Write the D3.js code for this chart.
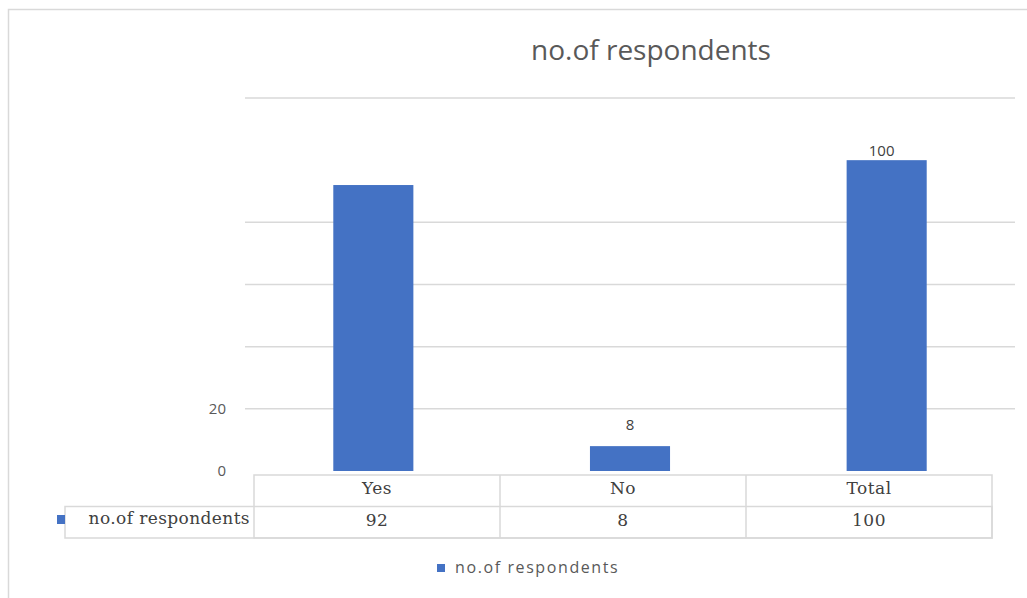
<!DOCTYPE html>
<html>
<head>
<meta charset="utf-8">
<script src="https://cdn.jsdelivr.net/npm/d3@7"></script>
<style>
  body { margin: 0; background: #fff; }
  svg { display: block; }
</style>
</head>
<body>
<div id="wrapper"></div>
<script>
// data
var categories = ['Yes', 'No', 'Total']
var values = [92, 8, 100]
var seriesName = 'no.of respondents'
var gridValues = [20, 40, 60, 80, 120] // the 100 line is not drawn in the original
var tickLabels = [0, 20]               // only these two survive on the axis
var labelled = ['No', 'Total']         // data labels shown only on these bars

var width = 1027, height = 598
var blue = '#4472c4'
var grey = '#595959'

var svg = d3.select('#wrapper').append('svg')
  .attr('width', width)
  .attr('height', height)

// chart frame, only top and left edge are in view
svg.append('rect')
  .attr('x', 8.5).attr('y', 9.5)
  .attr('width', 1100).attr('height', 700)
  .attr('fill', 'none')
  .attr('stroke', '#d9d9d9')
  .attr('stroke-width', 1.5)

svg.append('text')
  .text(seriesName)
  .attr('x', 651)
  .attr('y', 60)
  .attr('text-anchor', 'middle')
  .attr('font-family', 'Open Sans, sans-serif')
  .attr('font-size', 28)
  .attr('fill', grey)

var x = d3.scaleBand()
  .domain(categories)
  .range([245, 1015])
  .paddingInner(0.688)
  .paddingOuter(0.344)

var y = d3.scaleLinear()
  .domain([0, 120])
  .range([471, 98])

// gridlines
svg.append('g').selectAll('line')
  .data(gridValues)
  .join('line')
  .attr('x1', 245).attr('x2', 1015)
  .attr('y1', d => y(d)).attr('y2', d => y(d))
  .attr('stroke', '#d9d9d9')
  .attr('stroke-width', 1.5)

// y tick labels
svg.append('g').selectAll('text')
  .data(tickLabels)
  .join('text')
  .text(d => d)
  .attr('x', 226)
  .attr('y', d => y(d) + 5)
  .attr('text-anchor', 'end')
  .attr('font-family', 'Open Sans, sans-serif')
  .attr('font-size', 15)
  .attr('fill', grey)

// bars
svg.append('g').selectAll('rect')
  .data(values)
  .join('rect')
  .attr('x', (d, i) => x(categories[i]))
  .attr('y', d => y(d))
  .attr('width', x.bandwidth())
  .attr('height', d => y(0) - y(d))
  .attr('fill', blue)

// data labels (the 100 label sits tight on its bar in the original)
svg.append('g').selectAll('text')
  .data(values.filter((d, i) => labelled.includes(categories[i])))
  .join('text')
  .text(d => d)
  .attr('x', d => x(categories[values.indexOf(d)]) + x.bandwidth() / 2 - (d == 100 ? 5 : 0))
  .attr('y', d => y(d) - (d == 100 ? 4 : 16))
  .attr('text-anchor', 'middle')
  .attr('font-family', 'Open Sans, sans-serif')
  .attr('font-size', 15)
  .attr('fill', '#404040')

// data table under the axis
var tx = d3.scaleBand()
  .domain(categories)
  .range([254, 992])
var rowTop = 475, rowMid = 506.5, rowBot = 538
var table = svg.append('g')
  .attr('stroke', '#d9d9d9')
  .attr('stroke-width', 1.5)
  .attr('fill', 'none')

table.append('rect')
  .attr('x', 254).attr('y', rowTop)
  .attr('width', 992 - 254).attr('height', rowBot - rowTop)
table.append('rect')
  .attr('x', 65).attr('y', rowMid)
  .attr('width', 992 - 65).attr('height', rowBot - rowMid)
table.selectAll('line')
  .data(categories.slice(1))
  .join('line')
  .attr('x1', d => tx(d)).attr('x2', d => tx(d))
  .attr('y1', rowTop).attr('y2', rowBot)

var serif = 'DejaVu Serif, serif'
svg.append('g').selectAll('text')
  .data(categories)
  .join('text')
  .text(d => d)
  .attr('x', d => tx(d) + tx.bandwidth() / 2)
  .attr('y', 494)
  .attr('text-anchor', 'middle')
  .attr('font-family', serif)
  .attr('font-size', 17)
  .attr('letter-spacing', 0.5)
  .attr('fill', '#404040')

svg.append('g').selectAll('text')
  .data(values)
  .join('text')
  .text(d => d)
  .attr('x', (d, i) => tx(categories[i]) + tx.bandwidth() / 2)
  .attr('y', 526)
  .attr('text-anchor', 'middle')
  .attr('font-family', serif)
  .attr('font-size', 17)
  .attr('letter-spacing', 0.5)
  .attr('fill', '#404040')

svg.append('rect')
  .attr('x', 57).attr('y', 515)
  .attr('width', 8).attr('height', 9)
  .attr('fill', blue)
svg.append('text')
  .text(seriesName)
  .attr('x', 250)
  .attr('y', 524)
  .attr('text-anchor', 'end')
  .attr('font-family', serif)
  .attr('font-size', 17)
  .attr('letter-spacing', 0.4)
  .attr('fill', '#404040')

// legend
var legend = svg.append('g').attr('transform', 'translate(437,564)')
legend.append('rect')
  .attr('width', 8).attr('height', 8)
  .attr('fill', blue)
legend.append('text')
  .text(seriesName)
  .attr('x', 18)
  .attr('y', 9)
  .attr('font-family', 'Open Sans, sans-serif')
  .attr('font-size', 16)
  .attr('letter-spacing', 1.6)
  .attr('fill', grey)
</script>
</body>
</html>
